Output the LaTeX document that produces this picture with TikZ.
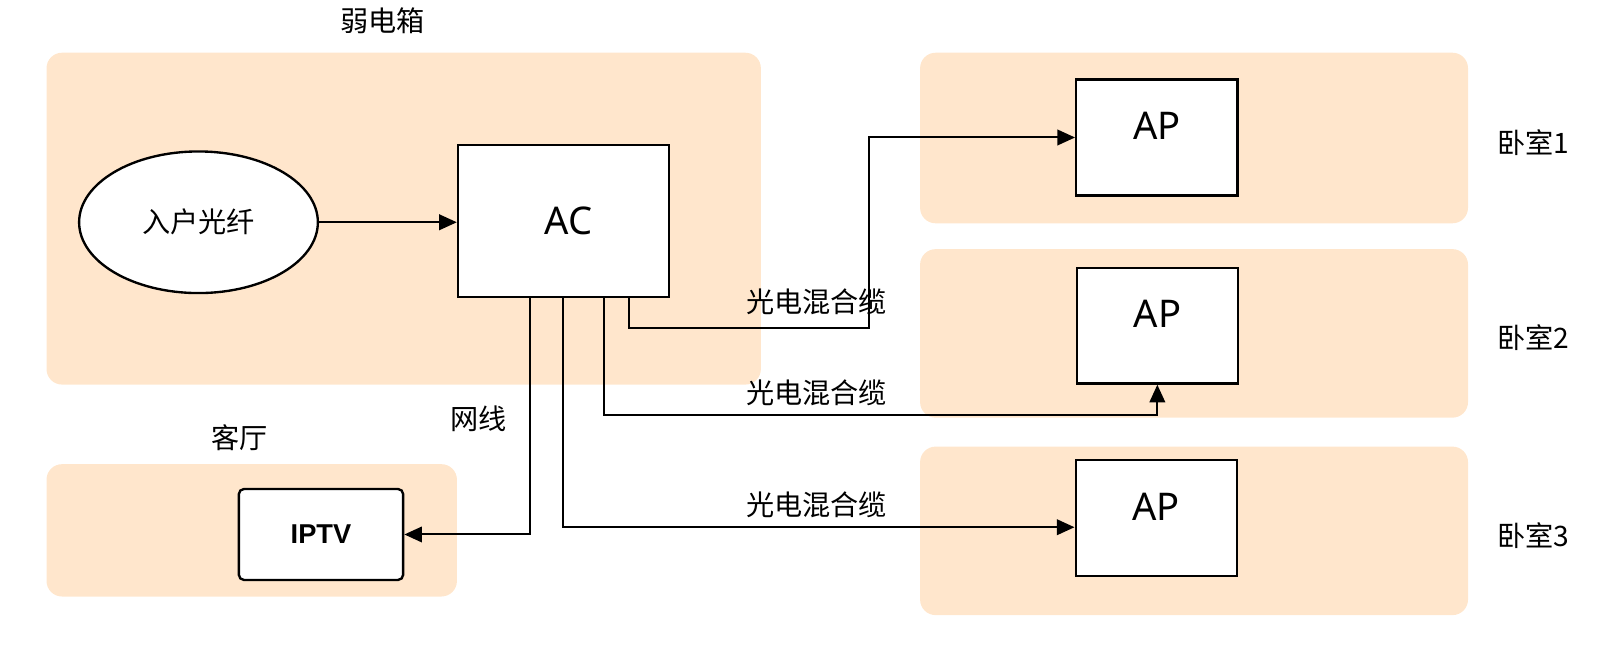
\documentclass[tikz,border=0pt]{standalone}
\usepackage{fontspec}
\setmainfont{Noto Sans}
\newfontfamily\cjk{Noto Sans CJK SC}
\newfontfamily\arialb{Liberation Sans}
\usetikzlibrary{arrows.meta,positioning,calc,shapes.geometric}
\definecolor{roomfill}{HTML}{FFE6CC}
\tikzset{
  room/.style   = {fill=roomfill, draw=none, rounded corners=3mm},
  dev/.style    = {draw, line width=1.3pt, fill=white, inner sep=0pt,
                   font=\fontsize{21}{24}\selectfont},
  apbox/.style  = {dev, minimum width=31.2mm, minimum height=22.4mm, text depth=4.4mm},
  fiber/.style  = {draw, ellipse, line width=1.3pt, fill=white, minimum width=46.2mm,
                   minimum height=27.4mm, inner sep=0pt},
  tvbox/.style  = {draw, line width=1.3pt, fill=white, rounded corners=1mm,
                   minimum width=31.8mm, minimum height=17.6mm,
                   font=\arialb\bfseries\fontsize{15}{18}\selectfont},
  sig/.style    = {-{Triangle[length=3.4mm, width=3mm]}, line width=1.1pt},
  lbl/.style    = {font=\cjk\fontsize{15.5}{18}\selectfont, inner sep=1pt},
}
\begin{document}
\begin{tikzpicture}[x=0.02cm, y=-0.02cm]
  \useasboundingbox (0,0) rectangle (1568,631);
  % rooms
  \fill[room] (45,51) rectangle (736,372);
  \fill[room] (45,449) rectangle (442,577);
  \fill[room] (890,51) rectangle (1420,216);
  \fill[room] (890,241) rectangle (1420,404);
  \fill[room] (890,432) rectangle (1420,595);
  \node[lbl] (box) at (370,20) {弱电箱};
  \node[lbl] (hall) at (232,423) {客厅};
  \node[lbl] (bed1) at (1483,138) {卧室1};
  \node[lbl] (bed2) at (1483,327) {卧室2};
  \node[lbl] (bed3) at (1483,518) {卧室3};
  % devices
  \node[fiber, font=\cjk\fontsize{15.5}{18}\selectfont] (fib) at (192,215) {入户光纤};
  \node[dev, minimum width=40.8mm, minimum height=29.4mm] (ac) at (545,213.5) {\hspace*{2mm}AC};
  \node[apbox] (ap1) at (1119,133) {AP};
  \node[apbox] (ap2) at (1119.5,315) {AP};
  \node[apbox] (ap3) at (1118.5,501) {AP};
  \node[tvbox] (tv) at (310.5,517) {IPTV};
  % links
  \draw[sig] (fib) -- (ac.west |- fib);
  \draw[sig] ($(ac.south west)+(71,0)$) |- (tv.east);
  \draw[sig] ($(ac.south west)+(103,0)$) |- ($(ap3.west)+(0,9)$);
  \draw[sig] ($(ac.south west)+(142,0)$) -- ++(0,113) -| (ap2.south);
  \draw[sig] ($(ac.south west)+(167,0)$) -- ++(0,29) -| ($(ap1.west)+(-199,0)$) -- (ap1.west);
  \node[lbl] (c1) at (790,292) {光电混合缆};
  \node[lbl] (c2) at (790,380) {光电混合缆};
  \node[lbl] (c3) at (790,488) {光电混合缆};
  \node[lbl] (net) at (463,405) {网线};
\end{tikzpicture}
\end{document}
